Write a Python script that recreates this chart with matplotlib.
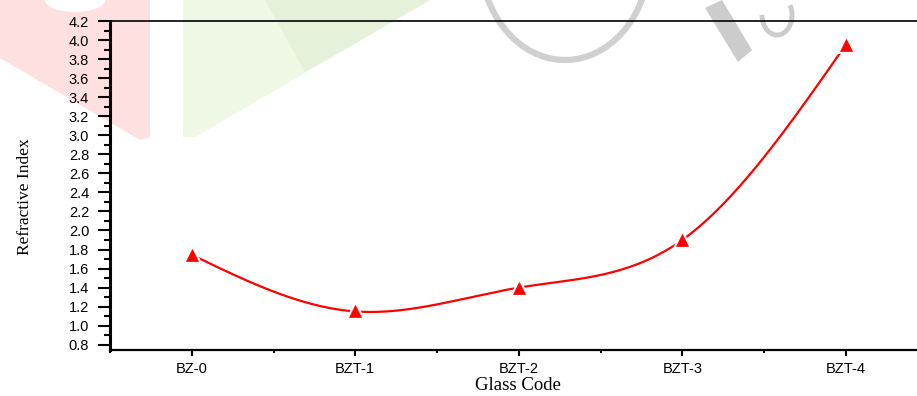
import numpy as np
import matplotlib
matplotlib.use("Agg")
import matplotlib.pyplot as plt
from matplotlib.patches import Polygon, Arc, Ellipse

# данные
glass_codes = ["BZ-0", "BZT-1", "BZT-2", "BZT-3", "BZT-4"]
refr_index = [1.745, 1.15, 1.40, 1.90, 3.95]


def natural_spline(x, y, n=400):
    # натуральный кубический сплайн, только для отрисовки гладкой линии
    x = np.asarray(x, float)
    y = np.asarray(y, float)
    k = len(x)
    h = np.diff(x)
    A = np.zeros((k, k))
    b = np.zeros(k)
    A[0, 0] = A[-1, -1] = 1
    for i in range(1, k - 1):
        A[i, i - 1] = h[i - 1]
        A[i, i] = 2 * (h[i - 1] + h[i])
        A[i, i + 1] = h[i]
        b[i] = 6 * ((y[i + 1] - y[i]) / h[i] - (y[i] - y[i - 1]) / h[i - 1])
    M = np.linalg.solve(A, b)
    xs = np.linspace(x[0], x[-1], n)
    idx = np.clip(np.searchsorted(x, xs) - 1, 0, k - 2)
    x0, x1 = x[idx], x[idx + 1]
    hh = x1 - x0
    t0, t1 = x1 - xs, xs - x0
    ys = (M[idx] * t0**3 + M[idx + 1] * t1**3) / (6 * hh) \
        + (y[idx] / hh - M[idx] * hh / 6) * t0 \
        + (y[idx + 1] / hh - M[idx + 1] * hh / 6) * t1
    return xs, ys


W, H = 917, 396
fig = plt.figure(figsize=(W / 100, H / 100), dpi=100)


def px(pts):
    return [(a / W, 1 - b / H) for a, b in pts]


# водяной знак на фоне
fig.patches.append(Polygon(px([(0, 0), (150, 0), (150, 137), (140, 140), (0, 58)]),
                           closed=True, transform=fig.transFigure, fc="#ffe0e0", ec="none", zorder=0))
fig.patches.append(Ellipse((75 / W, 1), 60 / W, 24 / H, transform=fig.transFigure,
                           fc="white", ec="none", zorder=0))
fig.patches.append(Polygon(px([(183, 0), (430, 0), (195, 137), (183, 137)]),
                           closed=True, transform=fig.transFigure, fc="#eef8e4", ec="none", zorder=0))
fig.patches.append(Polygon(px([(265, 0), (430, 0), (305, 72)]),
                           closed=True, transform=fig.transFigure, fc="#e5f1da", ec="none", zorder=0))
fig.patches.append(Arc((565 / W, 1 + 45 / H), 170 / W, 210 / H, theta1=215, theta2=335,
                       transform=fig.transFigure, color="#d0d0d0", lw=4.5, zorder=0))
fig.patches.append(Polygon(px([(705, 8), (722, 0), (752, 50), (738, 62)]),
                           closed=True, transform=fig.transFigure, fc="#cccccc", ec="none", zorder=0))
fig.patches.append(Arc((777 / W, 1 - 15 / H), 30 / W, 40 / H, theta1=180, theta2=60,
                       transform=fig.transFigure, color="#cccccc", lw=3.5, zorder=0))

ax = fig.add_axes([110 / W, 1 - 350 / H, 817.5 / W, 329 / H])
ax.set_facecolor("none")
ax.set_zorder(2)

x = np.arange(len(glass_codes))
xs, ys = natural_spline(x, refr_index)
ax.plot(xs, ys, color="red", lw=1.6, zorder=2)
ax.plot(x, refr_index, ls="none", marker="^", ms=9, color="red",
        mec="white", mew=3.5, zorder=3)
ax.plot(x, refr_index, ls="none", marker="^", ms=9, color="red", mec="red", mew=0.5, zorder=4)

ax.set_xlim(-0.5, 4.5)
ax.set_ylim(0.745, 4.2)
ax.set_xticks(x)
ax.set_xticklabels(glass_codes)
ax.set_xticks(np.arange(-0.5, 4.6, 1.0), minor=True)
yt = np.arange(0.8, 4.21, 0.2)
ax.set_yticks(yt)
ax.set_yticklabels([f"{v:.1f}" for v in yt])
ax.set_yticks(np.arange(0.9, 4.2, 0.2), minor=True)

for lab in ax.get_xticklabels() + ax.get_yticklabels():
    lab.set_fontfamily("Liberation Sans")
    lab.set_fontsize(10.5)

ax.tick_params(axis="y", which="major", direction="out", length=9, width=1.5, pad=6)
ax.tick_params(axis="y", which="minor", direction="out", length=4.5, width=1.5)
ax.tick_params(axis="x", which="major", direction="out", length=4.5, width=1.5, pad=4)
ax.tick_params(axis="x", which="minor", direction="out", length=2.5, width=1.5)

ax.spines["left"].set_linewidth(2.2)
ax.spines["bottom"].set_linewidth(1.6)
ax.spines["top"].set_linewidth(1.2)
ax.spines["right"].set_visible(False)

ax.set_xlabel("Glass Code", fontfamily="Liberation Serif", fontsize=13.5)
ax.xaxis.set_label_coords((518 - 110) / 817.5, (350 - 377) / 329)
ax.set_ylabel("Refractive Index", fontfamily="Liberation Serif", fontsize=12.5)
ax.yaxis.set_label_coords((33 - 110) / 817.5, (350 - 197) / 329)

fig.savefig("out.png", dpi=100)
